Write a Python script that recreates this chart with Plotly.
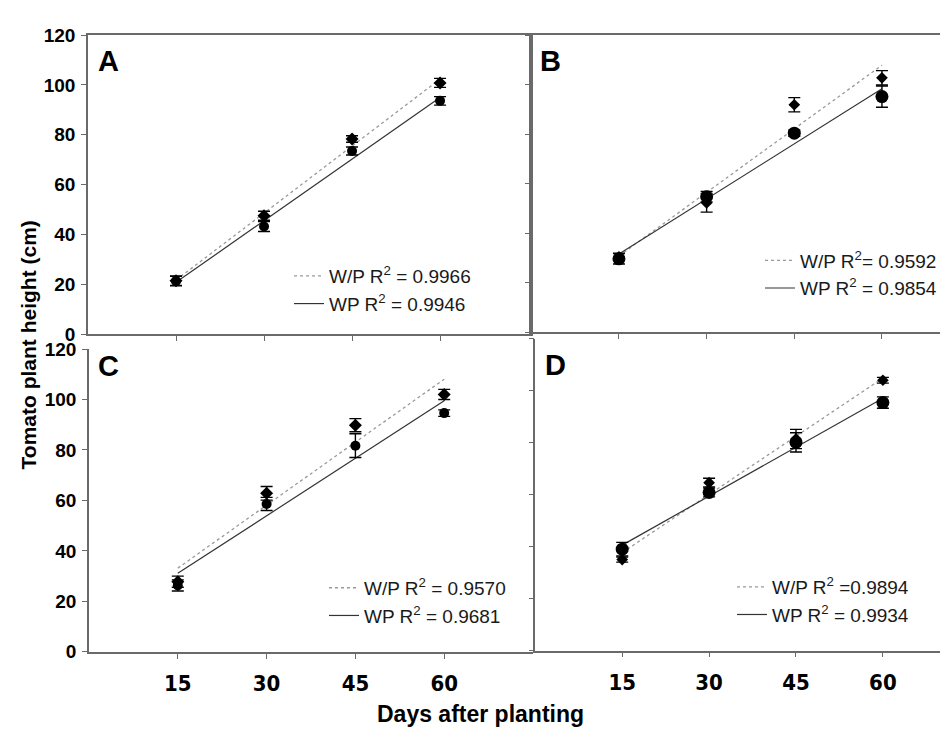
import numpy as np
import plotly.graph_objects as go

# ---------------- data ----------------
days = [15, 30, 45, 60]
y_ticks = [0, 20, 40, 60, 80, 100, 120]
panel_letters = ["A", "B", "C", "D"]

# W/P (diamonds, dotted fit) and WP (circles, solid fit); means and error bars
a_wps = [21.5, 47.5, 78.3, 100.8]
a_wps_err = [1.9, 1.8, 1.3, 1.8]
a_wp = [21.3, 43.2, 73.5, 93.6]
a_wp_err = [1.9, 2.0, 1.6, 1.7]

b_wps = [30.5, 52.3, 92.0, 102.9]
b_wps_err = [1.5, 3.7, 2.9, 2.9]
b_wp = [29.7, 54.8, 80.5, 95.3]
b_wp_err = [2.1, 2.1, 1.3, 4.3]

c_wps = [27.8, 62.8, 89.8, 102.0]
c_wps_err = [2.2, 2.7, 2.6, 2.0]
c_wp = [26.3, 58.6, 81.7, 94.6]
c_wp_err = [2.2, 2.6, 4.7, 1.3]

d_wps = [35.0, 64.6, 81.4, 104.0]
d_wps_err = [1.0, 1.7, 3.7, 1.1]
d_wp = [39.0, 60.8, 80.1, 95.4]
d_wp_err = [2.6, 1.7, 3.7, 2.2]

wps_labels = ["W/P R<sup>2</sup> = 0.9966", "W/P R<sup>2</sup>= 0.9592",
              "W/P R<sup>2</sup> = 0.9570", "W/P R<sup>2</sup> =0.9894"]
wp_labels = ["WP R<sup>2</sup> = 0.9946", "WP R<sup>2</sup> = 0.9854",
             "WP R<sup>2</sup> = 0.9681", "WP R<sup>2</sup> = 0.9934"]

x_title = "Days after planting"
y_title = "Tomato plant height (cm)"

# ---------------- layout helpers ----------------
W, H = 948, 740
def fx(p):
    return p / W
def fy(p):
    return 1 - p / H

AX = "#6a6a6a"
FONT = "Liberation Sans, Arial, sans-serif"
NARROW = "DejaVu Sans Condensed, Liberation Sans Narrow, Liberation Sans, Arial, sans-serif"

series = [
    (a_wps, a_wps_err, a_wp, a_wp_err),
    (b_wps, b_wps_err, b_wp, b_wp_err),
    (c_wps, c_wps_err, c_wp, c_wp_err),
    (d_wps, d_wps_err, d_wp, d_wp_err),
]
circle_sizes = [10, 13, 10, 13]
diamond_sizes = [10, 9, 10, 9]

fig = go.Figure()
xs_fit = np.array([days[0], days[-1]], dtype=float)
for i, (wps, wps_e, wp, wp_e) in enumerate(series):
    xa = "x" if i == 0 else f"x{i+1}"
    ya = "y" if i == 0 else f"y{i+1}"
    lg = "legend" if i == 0 else f"legend{i+1}"
    # linear fits of the means
    k1, b1 = np.polyfit(days, wps, 1)
    k2, b2 = np.polyfit(days, wp, 1)
    fig.add_trace(go.Scatter(x=xs_fit, y=k1 * xs_fit + b1, mode="lines",
                             line=dict(color="#999999", width=1.3, dash="dot"),
                             name=wps_labels[i], xaxis=xa, yaxis=ya, legend=lg,
                             hoverinfo="skip"))
    fig.add_trace(go.Scatter(x=xs_fit, y=k2 * xs_fit + b2, mode="lines",
                             line=dict(color="#333333", width=1.2),
                             name=wp_labels[i], xaxis=xa, yaxis=ya, legend=lg,
                             hoverinfo="skip"))
    fig.add_trace(go.Scatter(x=days, y=wp, mode="markers",
                             marker=dict(symbol="circle", size=circle_sizes[i], color="black"),
                             error_y=dict(type="data", array=wp_e, color="black",
                                          thickness=1.4, width=6),
                             xaxis=xa, yaxis=ya, showlegend=False))
    fig.add_trace(go.Scatter(x=days, y=wps, mode="markers",
                             marker=dict(symbol="diamond", size=diamond_sizes[i], color="black"),
                             error_y=dict(type="data", array=wps_e, color="black",
                                          thickness=1.4, width=6),
                             xaxis=xa, yaxis=ya, showlegend=False))

def xaxis(dom, rng, anchor, labels, mirror):
    return dict(domain=[fx(dom[0]), fx(dom[1])], range=rng, anchor=anchor,
                tickvals=days, ticks="outside", ticklen=5, tickwidth=1, tickcolor=AX,
                showline=True, linecolor=AX, linewidth=1.5, mirror=mirror,
                showgrid=False, zeroline=False, showticklabels=labels,
                tickfont=dict(family=NARROW, size=22, color="black", weight="bold"),
                ticklabelstandoff=6)

def yaxis(dom, anchor, labels, mirror):
    return dict(domain=[fy(dom[1]), fy(dom[0])], range=[0, 120], anchor=anchor,
                tickvals=y_ticks, ticks="outside", ticklen=5, tickwidth=1, tickcolor=AX,
                showline=True, linecolor=AX, linewidth=1.5, mirror=mirror,
                showgrid=False, zeroline=False, showticklabels=labels,
                tickfont=dict(family=FONT, size=19, color="black", weight="bold"),
                ticklabelstandoff=2)

legend_common = dict(xanchor="left", yanchor="top", bgcolor="rgba(0,0,0,0)",
                     font=dict(family=FONT, size=19, color="#1a1a1a"),
                     tracegroupgap=0, itemclick=False, itemdoubleclick=False)

fig.update_layout(
    width=W, height=H, margin=dict(l=0, r=0, t=0, b=0),
    paper_bgcolor="white", plot_bgcolor="white",
    xaxis=xaxis((80, 523), [0, 75.5], "y", False, True),
    yaxis=yaxis((17.5, 325.5), "x", True, True),
    xaxis2=xaxis((523.3, 948), [0, 72.67], "y2", False, True),
    yaxis2=yaxis((18, 323.5), "x2", False, False),
    xaxis3=xaxis((81, 525), [0, 75], "y3", True, False),
    yaxis3=yaxis((340.7, 652.3), "x3", True, False),
    xaxis4=xaxis((527.3, 948), [0, 72.62], "y4", True, False),
    yaxis4=yaxis((330, 651), "x4", False, False),
    legend=dict(x=fx(281), y=fy(246), **legend_common),
    legend2=dict(x=fx(752), y=fy(230), **legend_common),
    legend3=dict(x=fx(316), y=fy(567), **legend_common),
    legend4=dict(x=fx(724), y=fy(566), **legend_common),
    showlegend=True,
)

letter_pos = [(88, 26), (530, 26), (88, 340), (535, 339)]
for letter, (lx, ly) in zip(panel_letters, letter_pos):
    fig.add_annotation(text=letter, x=fx(lx), y=fy(ly), xref="paper", yref="paper",
                       xanchor="left", yanchor="top", showarrow=False,
                       font=dict(family=FONT, size=29, color="black", weight="bold"))

fig.add_annotation(text=y_title, x=fx(20), y=fy(337), xref="paper", yref="paper",
                   textangle=-90, showarrow=False, xanchor="center", yanchor="middle",
                   font=dict(family=FONT, size=21, color="black", weight="bold"))
fig.add_annotation(text=x_title, x=fx(472), y=fy(716), xref="paper", yref="paper",
                   showarrow=False, xanchor="center", yanchor="middle",
                   font=dict(family=FONT, size=23, color="black", weight="bold"))

fig.write_html("out.html")
